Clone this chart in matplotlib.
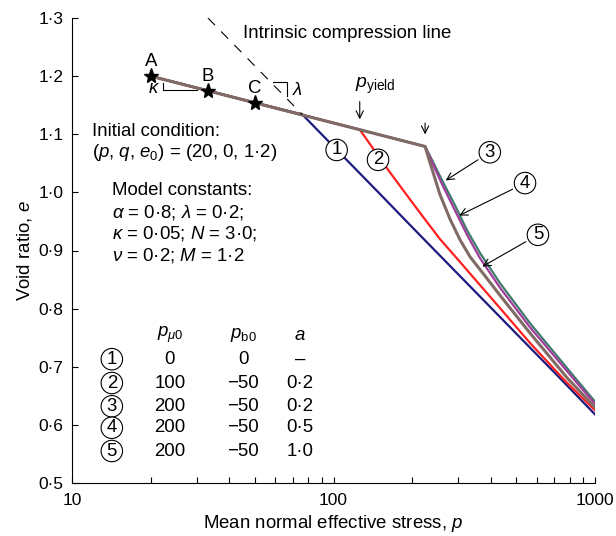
import matplotlib
matplotlib.use("Agg")
import matplotlib.pyplot as plt
from matplotlib.ticker import FixedLocator, FuncFormatter, LogLocator, NullFormatter

plt.rcParams["font.family"] = ["Liberation Sans", "DejaVu Sans"]
plt.rcParams["mathtext.fontset"] = "custom"
plt.rcParams["mathtext.rm"] = "Liberation Sans"
plt.rcParams["mathtext.it"] = "Liberation Sans:italic"
plt.rcParams["mathtext.bf"] = "Liberation Sans:bold"

# curves (p in kPa, void ratio e)
p1 = [20, 76, 100, 150, 200, 300, 500, 700, 1000]
e1 = [1.200, 1.134, 1.079, 0.998, 0.940, 0.859, 0.757, 0.690, 0.618]

p2 = [20, 126, 164, 214, 255, 305, 433, 564, 768, 1000]
e2 = [1.200, 1.108, 1.035, 0.965, 0.920, 0.880, 0.801, 0.741, 0.676, 0.625]

p3 = [20, 224, 238, 262, 292, 324, 363, 433, 564, 839, 1000]
e3 = [1.200, 1.079, 1.056, 1.018, 0.977, 0.935, 0.896, 0.844, 0.775, 0.681, 0.640]

p4 = [20, 224, 238, 262, 292, 324, 363, 433, 564, 839, 1000]
e4 = [1.200, 1.079, 1.052, 1.011, 0.968, 0.927, 0.887, 0.836, 0.768, 0.676, 0.636]

p5 = [20, 224, 234, 255, 279, 305, 333, 380, 433, 564, 782, 1000]
e5 = [1.200, 1.079, 1.051, 0.997, 0.954, 0.918, 0.889, 0.856, 0.823, 0.758, 0.681, 0.630]

# intrinsic compression line (dashed)
p_icl = [33.1, 76]
e_icl = [1.300, 1.134]

# points A, B, C
p_pts = [20, 33, 50]
e_pts = [1.200, 1.175, 1.154]
pt_names = ["A", "B", "C"]

# table of parameters
table_rows = [
    ["1", "0", "0", "–"],
    ["2", "100", "−50", "0·2"],
    ["3", "200", "−50", "0·2"],
    ["4", "200", "−50", "0·5"],
    ["5", "200", "−50", "1·0"],
]

FS = 13.4

fig = plt.figure(figsize=(6.16, 5.36), dpi=100)
ax = fig.add_axes([72 / 616, 1 - 483 / 536, 523 / 616, 465 / 536])

ax.plot(p1, e1, color="#1c1c80", lw=1.6)
ax.plot(p2, e2, color="#ff2020", lw=1.6)
ax.plot(p3, e3, color="#3f7a6c", lw=1.6)
ax.plot(p4, e4, color="#a23c9c", lw=1.6)
ax.plot(p5, e5, color="#806a64", lw=2.2)
ax.plot(p_icl, e_icl, color="black", lw=0.8, linestyle=(0, (9, 8)))
ax.plot(p_pts, e_pts, "*", color="black", ms=11)

for p, e, name in zip(p_pts, e_pts, pt_names):
    ax.text(p, e + 0.025, name, ha="center", va="center", fontsize=FS)

# kappa and lambda slope markers
ax.plot([22.3, 22.3, 30.1], [1.188, 1.176, 1.176], color="black", lw=0.8)
ax.text(20.6, 1.179, r"$\kappa$", ha="center", va="center", fontsize=FS)
ax.plot([58.9, 66.2, 66.2], [1.190, 1.190, 1.165], color="black", lw=0.8)
ax.text(73.0, 1.175, r"$\lambda$", ha="center", va="center", fontsize=FS)

ax.text(45.1, 1.274, "Intrinsic compression line", ha="left", va="center", fontsize=FS)

# yield arrows
ax.text(121, 1.184, r"$p_{\rm yield}$", ha="left", va="center", fontsize=FS + 0.6)
arr = dict(arrowstyle="->", color="black", lw=0.8, mutation_scale=13)
ax.annotate("", xy=(126, 1.121), xytext=(126, 1.161), arrowprops=arr)
ax.annotate("", xy=(224, 1.095), xytext=(224, 1.124), arrowprops=arr)

circ = dict(boxstyle="circle,pad=0.12", fc="white", ec="black", lw=0.8)
ax.text(102.8, 1.073, "1", ha="center", va="center", fontsize=FS, bbox=circ)
ax.text(148, 1.056, "2", ha="center", va="center", fontsize=FS, bbox=circ)
ax.annotate("3", xy=(263, 1.018), xytext=(396, 1.069), ha="center", va="center",
            fontsize=FS, bbox=circ, arrowprops=arr)
ax.annotate("4", xy=(296, 0.958), xytext=(540, 1.016), ha="center", va="center",
            fontsize=FS, bbox=circ, arrowprops=arr)
ax.annotate("5", xy=(363, 0.870), xytext=(605, 0.927), ha="center", va="center",
            fontsize=FS, bbox=circ, arrowprops=arr)

# text blocks
ax.text(11.9, 1.104, "Initial condition:", ha="left", va="center", fontsize=FS)
ax.text(11.9, 1.069, r"($p$, $q$, $e_0$) = (20, 0, 1·2)", ha="left", va="center", fontsize=FS)
ax.text(14.2, 1.004, "Model constants:", ha="left", va="center", fontsize=FS)
ax.text(14.2, 0.965, r"$\alpha$ = 0·8; $\lambda$ = 0·2;", ha="left", va="center", fontsize=FS)
ax.text(14.2, 0.930, r"$\kappa$ = 0·05; $N$ = 3·0;", ha="left", va="center", fontsize=FS)
ax.text(14.2, 0.891, r"$\nu$ = 0·2; $M$ = 1·2", ha="left", va="center", fontsize=FS)

col_p = [14.2, 23.7, 45.1, 74.5]
row_e = [0.713, 0.672, 0.632, 0.595, 0.555]
ax.text(col_p[1], 0.754, r"$p_{\mu0}$", ha="center", va="center", fontsize=FS)
ax.text(col_p[2], 0.754, r"$p_{\rm b0}$", ha="center", va="center", fontsize=FS)
ax.text(col_p[3], 0.754, r"$a$", ha="center", va="center", fontsize=FS)
for row, e in zip(table_rows, row_e):
    ax.text(col_p[0], e, row[0], ha="center", va="center", fontsize=FS, bbox=circ)
    for p, val in zip(col_p[1:], row[1:]):
        ax.text(p, e, val, ha="center", va="center", fontsize=FS)

ax.set_xscale("log")
ax.set_xlim(10, 1000)
ax.set_ylim(0.5, 1.3)
ax.xaxis.set_major_locator(FixedLocator([10, 100, 1000]))
ax.xaxis.set_major_formatter(FuncFormatter(lambda v, pos: f"{v:.0f}"))
ax.xaxis.set_minor_locator(LogLocator(base=10, subs=range(2, 10)))
ax.xaxis.set_minor_formatter(NullFormatter())
ax.yaxis.set_major_locator(FixedLocator([0.5, 0.6, 0.7, 0.8, 0.9, 1.0, 1.1, 1.2, 1.3]))
ax.yaxis.set_major_formatter(FuncFormatter(lambda v, pos: f"{v:.1f}".replace(".", "·")))
ax.tick_params(which="both", direction="in", length=4, width=0.8, labelsize=12.5, pad=6)
ax.tick_params(axis="x", pad=7)
for s in ["top", "right"]:
    ax.spines[s].set_visible(False)
for s in ["left", "bottom"]:
    ax.spines[s].set_linewidth(0.8)

ax.set_xlabel(r"Mean normal effective stress, $p$", fontsize=FS, labelpad=4)
ax.set_ylabel(r"Void ratio, $e$", fontsize=FS, labelpad=3)

fig.savefig("out.png", dpi=100)
